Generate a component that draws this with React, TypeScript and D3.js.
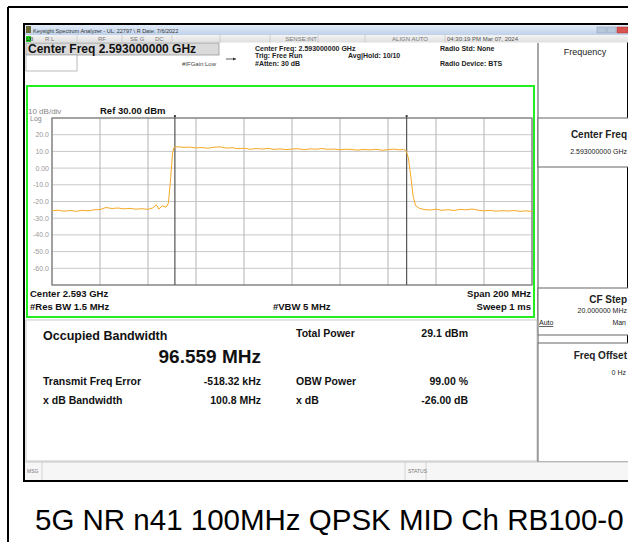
import * as d3 from 'd3'

const W = 628
const H = 542
const FONT = "Arial, 'Liberation Sans', sans-serif"

// trace: offset from centre (MHz) / level (dBm)
const traceFreq = [
  -100, -97.5, -95, -92.5, -90, -87.5, -85, -82.5, -80, -77.5, -75, -72.5, -70, -67.5, -65, -62.5,
  -60, -58, -56.5, -55.5, -54, -52.5, -51.5, -50.5, -49.8, -49.2, -47.5, -45, -42.5, -40, -37.5,
  -35, -32.5, -30, -27.5, -25, -22.5, -20, -17.5, -15, -12.5, -10, -7.5, -5, -2.5, 0, 2.5, 5, 7.5,
  10, 12.5, 15, 17.5, 20, 22.5, 25, 27.5, 30, 32.5, 35, 37.5, 40, 42.5, 45, 46.5, 47.5, 48.5, 49.5,
  50.5, 51.5, 53, 55, 57.5, 60, 62.5, 65, 67.5, 70, 72.5, 75, 77.5, 80, 82.5, 85, 87.5, 90, 92.5,
  95, 97.5, 100,
]
const traceLevel = [
  -25.6, -25.2, -25.8, -25.4, -25.9, -25.3, -25.6, -25.0, -24.8, -23.6, -24.2, -23.9, -24.4, -24.1,
  -24.6, -24.3, -24.7, -23.8, -22.0, -24.5, -22.6, -23.4, -21.0, -5.0, 8.5, 12.3, 12.8, 12.4, 12.6,
  12.1, 12.3, 11.9, 12.5, 12.7, 12.0, 12.2, 11.6, 11.9, 11.3, 11.7, 11.4, 11.8, 11.2, 11.5, 11.1,
  11.4, 11.6, 11.0, 11.5, 11.3, 11.7, 11.2, 11.4, 11.0, 11.3, 11.1, 10.8, 11.2, 10.9, 11.3, 10.7,
  11.0, 11.4, 10.9, 11.2, 10.6, 6.0, -5.0, -17.0, -22.5, -24.0, -24.8, -25.1, -24.6, -25.3, -24.9,
  -25.4, -24.7, -25.0, -24.5, -25.2, -25.6, -25.3, -25.8, -25.5, -25.7, -25.4, -25.9, -25.6, -26.0,
]

const yTickValues = [20, 10, 0, -10, -20, -30, -40, -50, -60]
const yTickLabels = ['20.0', '10.0', '0.00', '-10.0', '-20.0', '-30.0', '-40.0', '-50.0', '-60.0']

const spanMHz = 200
const refLevel = 30
const dbPerDiv = 10
const obwMHz = 96.559
const freqErrorMHz = -0.51832

const resultLeftLabels = ['Transmit Freq Error', 'x dB Bandwidth']
const resultLeftValues = ['-518.32 kHz', '100.8 MHz']
const resultRightLabels = ['Total Power', 'OBW Power', 'x dB']
const resultRightValues = ['29.1 dBm', '99.00 %', '-26.00 dB']

const statusCells = [
  { x: 77, label: 'RF', tx: 98 },
  { x: 122, label: 'SE G', tx: 130 },
  { x: 172, label: '', tx: 0 },
  { x: 220, label: '', tx: 0 },
  { x: 270, label: '', tx: 0 },
  { x: 318, label: '', tx: 0 },
  { x: 365, label: '', tx: 0 },
  { x: 445, label: '', tx: 0 },
]

export default function App() {
  const gx0 = 52
  const gx1 = 532
  const gy0 = 118
  const gy1 = 285

  const x = d3.scaleLinear().domain([-spanMHz / 2, spanMHz / 2]).range([gx0, gx1])
  const y = d3.scaleLinear().domain([refLevel - 10 * dbPerDiv, refLevel]).range([gy1, gy0])

  const pts: [number, number][] = traceFreq.map((f, i) => [f, traceLevel[i]])
  const line = d3.line<[number, number]>().x(d => x(d[0])).y(d => y(d[1]))

  const obwLeft = x(freqErrorMHz - obwMHz / 2)
  const obwRight = x(freqErrorMHz + obwMHz / 2)

  const small = { fontFamily: FONT, fontSize: 6, fill: '#777' }
  const hdr = { fontFamily: FONT, fontSize: 7, fontWeight: 700, fill: '#222' }

  return (
    <svg width={W} height={H} style={{ position: 'absolute', left: 0, top: 0, background: '#fff' }}>
      <defs>
        <linearGradient id="tbar" x1="0" y1="0" x2="0" y2="1">
          <stop offset="0" stopColor="#e3ecf8" />
          <stop offset="1" stopColor="#bfd1ea" />
        </linearGradient>
        <linearGradient id="srow" x1="0" y1="0" x2="0" y2="1">
          <stop offset="0" stopColor="#f4f4f4" />
          <stop offset="1" stopColor="#dedede" />
        </linearGradient>
      </defs>

      {/* outer frame */}
      <line x1={8} y1={7} x2={W} y2={7} stroke="#000" strokeWidth={2} />
      <line x1={8} y1={7} x2={8} y2={H} stroke="#000" strokeWidth={2} />

      {/* screenshot */}
      <rect x={24} y={24} width={W - 24} height={457} fill="#fff" stroke="#000" strokeWidth={2} />

      {/* title bar */}
      <rect x={25} y={25} width={W - 25} height={10} fill="url(#tbar)" />
      <rect x={26} y={26} width={5} height={7} fill="#6b6b3a" />
      <text x={33} y={32.5} style={{ ...small, fill: '#333', fontSize: 5.5 }}>
        Keysight Spectrum Analyzer - UL: 22797 \ R Date: 7/6/2022
      </text>
      <rect x={597} y={27} width={9} height={6} fill="#b8c8dc" stroke="#8899b0" strokeWidth={0.5} />
      <rect x={607} y={27} width={9} height={6} fill="#b8c8dc" stroke="#8899b0" strokeWidth={0.5} />
      <rect x={617} y={27} width={11} height={6} fill="#d9534f" stroke="#a33" strokeWidth={0.5} />

      {/* status row */}
      <rect x={25} y={35} width={W - 25} height={7.5} fill="url(#srow)" />
      <rect x={26} y={36} width={5} height={6} fill="#22cc22" />
      <text x={26.5} y={41} style={{ ...small, fontSize: 4.5, fill: '#000' }}>LXI</text>
      <text x={45} y={41} style={small}>R L</text>
      {statusCells.map(c => (
        <g key={c.x}>
          <line x1={c.x} y1={35} x2={c.x} y2={42.5} stroke="#c4c4c4" strokeWidth={0.7} />
          {c.label && <text x={c.tx} y={41} style={small}>{c.label}</text>}
        </g>
      ))}
      <text x={155} y={41} style={small}>DC</text>
      <text x={317} y={41} textAnchor="end" style={small}>SENSE:INT</text>
      <text x={428} y={41} textAnchor="end" style={small}>ALIGN AUTO</text>
      <text x={447} y={41} style={{ ...small, fill: '#555' }}>04:30:19 PM Mar 07, 2024</text>

      {/* centre freq box */}
      <rect x={26} y={43} width={193} height={12} fill="#dadada" stroke="#9a9a9a" strokeWidth={0.8} />
      <text x={28} y={53.3} style={{ fontFamily: FONT, fontSize: 12, fontWeight: 700, fill: '#111' }}>
        Center Freq 2.593000000 GHz
      </text>
      <rect x={26} y={55} width={51} height={16} fill="#fff" stroke="#aaa" strokeWidth={0.8} />
      <text x={182} y={66} style={{ ...small, fill: '#444', fontSize: 6 }}>#IFGain:Low</text>
      <line x1={226} y1={59} x2={236} y2={59} stroke="#333" strokeWidth={0.8} />
      <path d="M236,59 l-3,-1.5 v3 z" fill="#333" />
      <text x={255} y={50.5} style={hdr}>Center Freq: 2.593000000 GHz</text>
      <text x={255} y={58} style={hdr}>Trig: Free Run</text>
      <text x={348} y={58} style={hdr}>Avg|Hold: 10/10</text>
      <text x={255} y={65.5} style={hdr}>#Atten: 30 dB</text>
      <text x={440} y={50.5} style={hdr}>Radio Std: None</text>
      <text x={440} y={65.5} style={hdr}>Radio Device: BTS</text>

      {/* right soft-key panel */}
      <line x1={538} y1={43} x2={538} y2={462} stroke="#888" strokeWidth={1.5} />
      <text x={585} y={55} textAnchor="middle" style={{ fontFamily: FONT, fontSize: 9, fill: '#222' }}>
        Frequency
      </text>
      <rect x={538} y={118} width={92} height={49} fill="#fff" stroke="#666" strokeWidth={1} />
      <text x={627} y={138} textAnchor="end" style={{ fontFamily: FONT, fontSize: 10, fontWeight: 700, fill: '#222' }}>
        Center Freq
      </text>
      <text x={627} y={154} textAnchor="end" style={{ fontFamily: FONT, fontSize: 7, fill: '#222' }}>
        2.593000000 GHz
      </text>
      <rect x={538} y={288} width={92} height={47} fill="#fff" stroke="#666" strokeWidth={1} />
      <text x={627} y={303} textAnchor="end" style={{ fontFamily: FONT, fontSize: 10, fontWeight: 700, fill: '#222' }}>
        CF Step
      </text>
      <text x={627} y={313} textAnchor="end" style={{ fontFamily: FONT, fontSize: 7, fill: '#222' }}>
        20.000000 MHz
      </text>
      <text x={539} y={325} style={{ fontFamily: FONT, fontSize: 7, fill: '#222', textDecoration: 'underline' }}>
        Auto
      </text>
      <text x={626} y={325} textAnchor="end" style={{ fontFamily: FONT, fontSize: 7, fill: '#222' }}>
        Man
      </text>
      <rect x={538} y={343} width={92} height={119} fill="#fff" stroke="#666" strokeWidth={1} />
      <text x={627} y={359} textAnchor="end" style={{ fontFamily: FONT, fontSize: 10, fontWeight: 700, fill: '#222' }}>
        Freq Offset
      </text>
      <text x={626} y={375} textAnchor="end" style={{ fontFamily: FONT, fontSize: 7, fill: '#222' }}>
        0 Hz
      </text>

      {/* graph frame */}
      <rect x={27} y={86} width={507} height={231} fill="#fff" stroke="#22ee22" strokeWidth={2} />
      <text x={28} y={114} style={{ fontFamily: FONT, fontSize: 8, fill: '#888' }}>10 dB/div</text>
      <text x={100} y={114} style={{ fontFamily: FONT, fontSize: 9.5, fontWeight: 700, fill: '#111' }}>
        Ref 30.00 dBm
      </text>
      <text x={30} y={121} style={{ fontFamily: FONT, fontSize: 7, fill: '#888' }}>Log</text>

      {/* grid */}
      {y.ticks(10).map(v => (
        <line key={'h' + v} x1={gx0} x2={gx1} y1={y(v)} y2={y(v)} stroke="#c8c8c8" strokeWidth={1} />
      ))}
      {x.ticks(10).map(v => (
        <line key={'v' + v} x1={x(v)} x2={x(v)} y1={gy0} y2={gy1} stroke="#b4b4b4" strokeWidth={1} />
      ))}
      <rect x={gx0} y={gy0} width={gx1 - gx0} height={gy1 - gy0} fill="none" stroke="#7a7a7a" strokeWidth={1.2} />
      {yTickValues.map((v, i) => (
        <text key={v} x={49} y={y(v) + 2.5} textAnchor="end" style={{ fontFamily: FONT, fontSize: 7, fill: '#999' }}>
          {yTickLabels[i]}
        </text>
      ))}

      {/* OBW edges */}
      {[obwLeft, obwRight].map((xv, i) => (
        <g key={i}>
          <line x1={xv} x2={xv} y1={gy0 - 2} y2={gy1} stroke="#555" strokeWidth={1.2} />
          <rect x={xv - 1} y={gy0 - 3} width={2} height={2} fill="#444" />
        </g>
      ))}

      {/* trace */}
      <path d={line(pts) ?? ''} fill="none" stroke="#f7a928" strokeWidth={1} />

      {/* graph annotations */}
      <text x={30} y={297} style={{ fontFamily: FONT, fontSize: 9.5, fontWeight: 700, fill: '#111' }}>
        Center  2.593 GHz
      </text>
      <text x={30} y={310} style={{ fontFamily: FONT, fontSize: 9.5, fontWeight: 700, fill: '#111' }}>
        #Res BW  1.5 MHz
      </text>
      <text x={273} y={310} style={{ fontFamily: FONT, fontSize: 9.5, fontWeight: 700, fill: '#111' }}>
        #VBW  5 MHz
      </text>
      <text x={531} y={297} textAnchor="end" style={{ fontFamily: FONT, fontSize: 9.5, fontWeight: 700, fill: '#111' }}>
        Span 200 MHz
      </text>
      <text x={531} y={310} textAnchor="end" style={{ fontFamily: FONT, fontSize: 9.5, fontWeight: 700, fill: '#111' }}>
        Sweep  1 ms
      </text>

      {/* results */}
      <rect x={26} y={320} width={511} height={141} fill="#fff" stroke="#bbb" strokeWidth={0.8} />
      <text x={43} y={340} style={{ fontFamily: FONT, fontSize: 12.5, fontWeight: 700, fill: '#111' }}>
        Occupied Bandwidth
      </text>
      <text x={261} y={363} textAnchor="end" style={{ fontFamily: FONT, fontSize: 19, fontWeight: 700, fill: '#111' }}>
        96.559 MHz
      </text>
      {resultLeftLabels.map((l, i) => (
        <g key={l}>
          <text x={43} y={385 + i * 19} style={{ fontFamily: FONT, fontSize: 10.5, fontWeight: 700, fill: '#111' }}>
            {l}
          </text>
          <text x={261} y={385 + i * 19} textAnchor="end" style={{ fontFamily: FONT, fontSize: 10.5, fontWeight: 700, fill: '#111' }}>
            {resultLeftValues[i]}
          </text>
        </g>
      ))}
      {resultRightLabels.map((l, i) => (
        <g key={l}>
          <text x={296} y={i === 0 ? 337 : 366 + i * 19} style={{ fontFamily: FONT, fontSize: 10.5, fontWeight: 700, fill: '#111' }}>
            {l}
          </text>
          <text x={468} y={i === 0 ? 337 : 366 + i * 19} textAnchor="end" style={{ fontFamily: FONT, fontSize: 10.5, fontWeight: 700, fill: '#111' }}>
            {resultRightValues[i]}
          </text>
        </g>
      ))}

      {/* message bar */}
      <rect x={25} y={462} width={W - 25} height={18} fill="#f6f6f6" />
      <line x1={25} x2={W} y1={462} y2={462} stroke="#bbb" strokeWidth={0.8} />
      <line x1={42} x2={42} y1={462} y2={480} stroke="#ccc" strokeWidth={0.8} />
      <line x1={405} x2={405} y1={462} y2={480} stroke="#ccc" strokeWidth={0.8} />
      <line x1={426} x2={426} y1={462} y2={480} stroke="#ccc" strokeWidth={0.8} />
      <text x={27} y={473} style={{ ...small, fontSize: 5 }}>MSG</text>
      <text x={408} y={473} style={{ ...small, fontSize: 5 }}>STATUS</text>

      {/* caption */}
      <text x={35} y={530} style={{ fontFamily: FONT, fontSize: 29.5, fill: '#000' }}>
        5G NR n41 100MHz QPSK MID Ch RB100-0
      </text>
    </svg>
  )
}
